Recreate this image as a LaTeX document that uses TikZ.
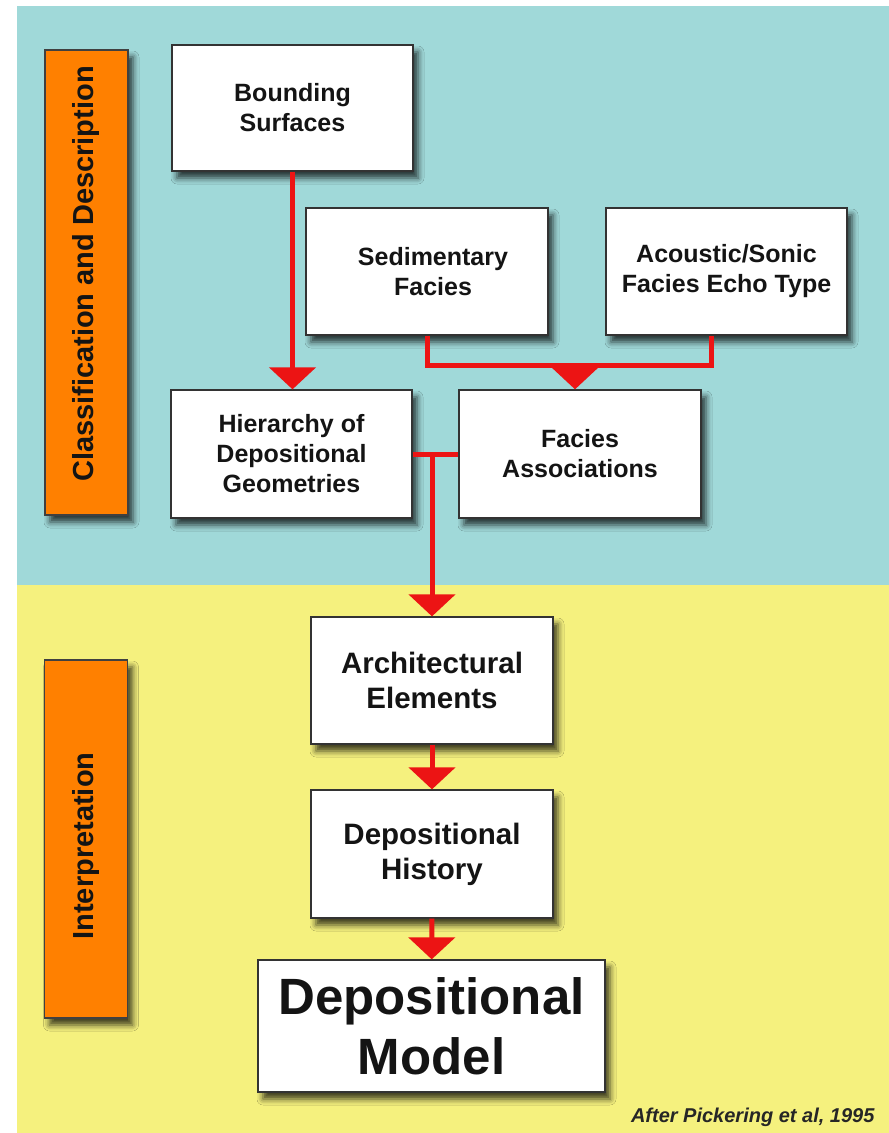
\documentclass[tikz,border=0pt]{standalone}
\usepackage{fontspec}
\setmainfont{Liberation Sans}
\usetikzlibrary{arrows.meta,shadows.blur}
\definecolor{sea}{RGB}{160,217,217}
\definecolor{sand}{RGB}{245,241,126}
\definecolor{bar}{RGB}{255,128,0}
\definecolor{flow}{RGB}{236,20,20}
\begin{document}
\begin{tikzpicture}[x=1pt,y=-1pt,
  shade/.style={blur shadow={shadow xshift=5pt,shadow yshift=-7pt,shadow blur radius=6pt,shadow opacity=75}},
  box/.style={shade,draw=black!80,line width=1.3pt,fill=white,text=black!92,align=center,inner sep=0pt,
    minimum width=241pt,minimum height=127pt,font=\bfseries\fontsize{25}{30}\selectfont},
  bigbox/.style={box,font=\bfseries\fontsize{29.5}{35}\selectfont},
  band/.style={shade,draw=black!75,line width=1.3pt,fill=bar,inner sep=0pt,minimum width=83pt},
  bandtext/.style={rotate=90,text=black!92,inner sep=0pt,font=\bfseries\fontsize{29}{35}\selectfont},
  link/.style={draw=flow,line width=5pt},
  arrow/.style={link,-{Triangle[width=46pt,length=22pt]}}]
\useasboundingbox (0,0) rectangle (889,1133);
\fill[sea] (17,6) rectangle (889,585);
\fill[sand] (17,585) rectangle (889,1133);

\node (descbar) [band,minimum height=465pt] at (86.5,282.5) {};
\node (desctext) [bandtext] at (86,274) {Classification and Description};
\node (interpbar) [band,minimum height=358pt] at (86,839) {};
\node (interptext) [bandtext] at (86,846) {Interpretation};

\node (bs) [box,minimum height=126pt] at (292.5,108) {Bounding\\Surfaces};
\node (sed) [box,minimum width=242pt] at (427,271.5) {\hspace*{12pt}Sedimentary\\\hspace*{12pt}Facies};
\node (ac) [box] at (726.5,271.5) {Acoustic/Sonic\\Facies Echo Type};
\node (hier) [box,minimum height=128pt] at (291.5,454) {Hierarchy of\\Depositional\\Geometries};
\node (fa) [box,minimum width=242pt,minimum height=128pt] at (580,454) {Facies\\Associations};
\node (arch) [bigbox,minimum width=242pt] at (432,680.5) {Architectural\\Elements};
\node (hist) [bigbox,minimum width=242pt,minimum height=128pt] at (432,854) {Depositional\\History};
\node (model) [box,minimum width=347pt,minimum height=132pt,font=\bfseries\fontsize{51}{60}\selectfont] at (431.5,1026) {Depositional\\Model};

\coordinate (merge) at (575,365);
\coordinate (split) at (432,454);
\draw[arrow] (bs.south) -- (bs.south |- hier.north);
\draw[link] (sed.south) |- (merge) -| ([xshift=-15.5pt]ac.south);
\draw[arrow] (merge) -- (merge |- fa.north);
\draw[link] (hier.east) -- (fa.west);
\draw[arrow] (split) -- (split |- arch.north);
\draw[arrow] (arch) -- (hist);
\draw[arrow] (hist) -- (model);

\node (src) [anchor=base east,text=black!85,font=\bfseries\itshape\fontsize{20}{24}\selectfont] at (878,1122) {After Pickering et al, 1995};
\end{tikzpicture}
\end{document}
